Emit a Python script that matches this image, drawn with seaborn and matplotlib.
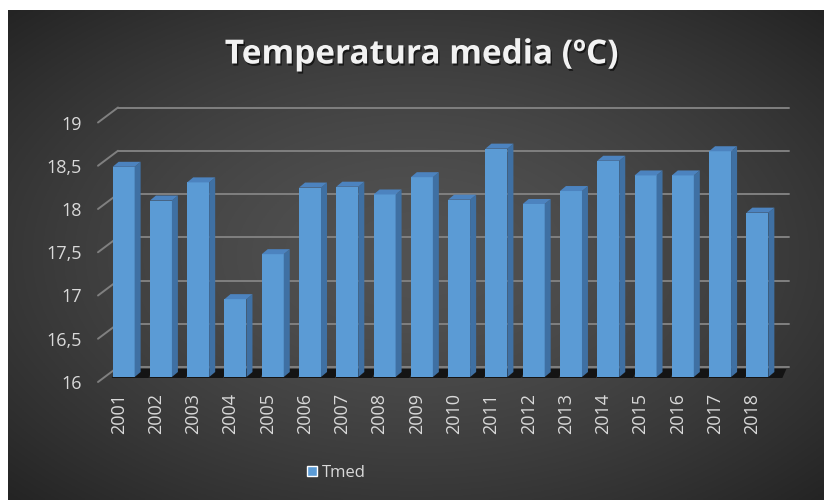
import numpy as np
import matplotlib
matplotlib.use('Agg')
import matplotlib.pyplot as plt
import seaborn as sns
from matplotlib.patches import Polygon, Patch
from matplotlib.lines import Line2D
from matplotlib.transforms import ScaledTranslation, IdentityTransform
from matplotlib import patheffects

# datos
anios = ['2001', '2002', '2003', '2004', '2005', '2006', '2007', '2008', '2009',
         '2010', '2011', '2012', '2013', '2014', '2015', '2016', '2017', '2018']
tmed = [18.43, 18.04, 18.25, 16.90, 17.42, 18.19, 18.20, 18.11, 18.31,
        18.05, 18.64, 18.00, 18.15, 18.50, 18.33, 18.33, 18.61, 17.90]
y_ticks = [16, 16.5, 17, 17.5, 18, 18.5, 19]
y_labels = ['16', '16,5', '17', '17,5', '18', '18,5', '19']

azul = '#5B9BD5'
lateral = '#3F70A3'
techo = '#4C83BF'
texto = '#D9D9D9'
rejilla = '#808080'

sns.set_style('white')
plt.rcParams['font.family'] = ['Open Sans', 'DejaVu Sans']

W, H = 824, 500
fig = plt.figure(figsize=(W / 100, H / 100), dpi=100, facecolor='white')

# fondo con degradado radial
fondo = fig.add_axes([8 / W, 0, (W - 8) / W, (H - 10) / H], zorder=-10)
xx, yy = np.meshgrid(np.linspace(-1, 1, 400), np.linspace(-1, 1, 250))
r = np.clip(np.sqrt(xx ** 2 + yy ** 2) / np.sqrt(2), 0, 1)
gris = (82 - 46 * r ** 1.5) / 255
fondo.imshow(np.dstack([gris, gris, gris]), aspect='auto', extent=[0, 1, 0, 1])
fondo.axis('off')

# area del grafico (plano medio de las columnas)
ax = fig.add_axes([105 / W, 123 / H, 671 / W, 259.5 / H])
ax.set_facecolor('none')

sns.barplot(x=anios, y=tmed, color=azul, width=0.59, saturation=1,
            ax=ax, zorder=3, linewidth=0)
ax.set_ylim(16, 19)
ax.set_xlim(-0.5, len(anios) - 0.5)
for s in ax.spines.values():
    s.set_visible(False)

dx, dy = 6, 5          # profundidad de las columnas (px)
atras = (13, 10)       # pared del fondo (px)
frente = (-7, -5)      # borde frontal (px)

# rejilla en la pared del fondo + lineas diagonales del lateral
trans_fondo = ax.get_yaxis_transform() + ScaledTranslation(atras[0] / 100, atras[1] / 100, fig.dpi_scale_trans)
for v in y_ticks:
    ax.plot([0, 1], [v, v], transform=trans_fondo, color=rejilla, lw=1.4,
            clip_on=False, zorder=0.5)
    px, py = ax.get_yaxis_transform().transform((0, v))
    ax.add_line(Line2D([px + frente[0], px + atras[0]], [py + frente[1], py + atras[1]],
                       transform=IdentityTransform(), color=rejilla, lw=1.4,
                       clip_on=False, zorder=0.5))

# caras laterales, techo y sombra de cada columna
ymin = ax.get_ylim()[0]
for p in ax.patches:
    x0 = p.get_x()
    x1 = x0 + p.get_width()
    top = p.get_height()
    (a0, b0), (a1, b1) = ax.transData.transform([(x0, ymin), (x1, top)])
    sombra = Polygon([(a0 - 1, b0 - 1), (a1 + dx + 8, b0 - 1), (a1 + dx + 12, b0 + dy + 3),
                      (a0 + dx, b0 + dy + 3)], closed=True, transform=IdentityTransform(),
                     facecolor='#141414', edgecolor='none', clip_on=False, zorder=1)
    cara = Polygon([(a1, b0), (a1, b1), (a1 + dx, b1 + dy), (a1 + dx, b0 + dy)],
                   closed=True, transform=IdentityTransform(), facecolor=lateral,
                   edgecolor='none', clip_on=False, zorder=3)
    tapa = Polygon([(a0, b1), (a1, b1), (a1 + dx, b1 + dy), (a0 + dx, b1 + dy)],
                   closed=True, transform=IdentityTransform(), facecolor=techo,
                   edgecolor='none', clip_on=False, zorder=3)
    ax.add_patch(sombra)
    ax.add_patch(cara)
    ax.add_patch(tapa)

# ejes
ax.set_yticks(y_ticks, y_labels)
ax.tick_params(axis='both', length=0, labelcolor=texto, labelsize=13)
ax.tick_params(axis='y', pad=11.5)
ax.tick_params(axis='x', pad=8, labelrotation=90)
ax.set_xlabel('')
ax.set_ylabel('')
ax.grid(False)
for lab in ax.get_yticklabels():
    lab.set_transform(lab.get_transform() + ScaledTranslation(frente[0] / 100, frente[1] / 100, fig.dpi_scale_trans))
for lab in ax.get_xticklabels():
    lab.set_transform(lab.get_transform() + ScaledTranslation(-5 / 100, frente[1] / 100, fig.dpi_scale_trans))

# titulo
fig.text(422 / W, 1 - 55 / H, 'Temperatura media (ºC)', ha='center', va='center',
         fontsize=24, fontweight='bold', color='#F2F2F2',
         path_effects=[patheffects.withSimplePatchShadow(offset=(1, -1.5), shadow_rgbFace='black', alpha=0.6)])

# leyenda
fig.legend(handles=[Patch(facecolor=azul, label='Tmed')], loc='center',
           bbox_to_anchor=(336 / W, 1 - 473 / H), frameon=False, fontsize=12,
           labelcolor=texto, handlelength=0.6, handleheight=0.6, handletextpad=0.3)

fig.savefig('out.png', dpi=100, facecolor=fig.get_facecolor())
